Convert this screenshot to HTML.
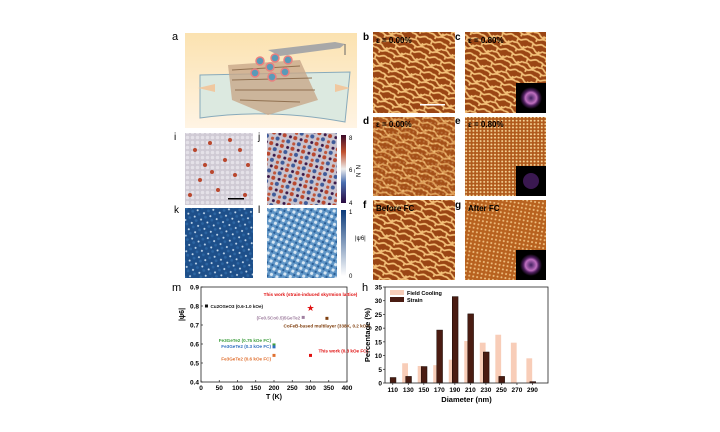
<!DOCTYPE html>
<html><head><meta charset="utf-8"><style>
body{margin:0;background:#fff;width:720px;height:432px;overflow:hidden;font-family:"Liberation Sans",sans-serif}
svg{position:absolute;left:0;top:0}
</style></head><body>
<svg width="720" height="432" font-family="Liberation Sans, sans-serif">
<defs>
<pattern id="maze" width="16" height="16" patternUnits="userSpaceOnUse" patternTransform="rotate(20)">
<rect width="16" height="16" fill="#9a4514"/>
<path d="M0 2 C3 0 5 5 8 3 S13 0 16 2 M0 7 C2 9 4 5 7 8 S12 11 16 7 M0 12 C4 10 6 15 9 13 S14 11 16 12 M4 3 V6 M12 8 V11 M6 13 V16" stroke="#f3c078" stroke-width="1.7" fill="none"/>
</pattern>
<pattern id="dots" width="3.6" height="3.4" patternUnits="userSpaceOnUse">
<rect width="3.6" height="3.4" fill="#b05a1c"/><circle cx="1.8" cy="1.7" r="1" fill="#f7d69a"/>
</pattern>
<pattern id="dotsg" width="4" height="4" patternUnits="userSpaceOnUse" patternTransform="rotate(10)">
<rect width="4" height="4" fill="#b8621f"/><circle cx="2" cy="2" r="1" fill="#f0c080"/>
</pattern>
<pattern id="ipat" width="5" height="5" patternUnits="userSpaceOnUse">
<rect width="5" height="5" fill="#cfcad4"/><circle cx="2.5" cy="2.5" r="1.8" fill="#e4e1e8"/>
</pattern>
<pattern id="jpat" width="11" height="11" patternUnits="userSpaceOnUse" patternTransform="rotate(15)">
<rect width="11" height="11" fill="#c9c4cf"/><circle cx="2" cy="2" r="2" fill="#b9472e"/><circle cx="7" cy="7" r="2" fill="#3e5b9a"/><circle cx="8" cy="2" r="1.5" fill="#3a1848"/><circle cx="2" cy="8" r="1.6" fill="#c0563a"/>
</pattern>
<pattern id="kpat" width="7" height="7" patternUnits="userSpaceOnUse" patternTransform="rotate(25)">
<rect width="7" height="7" fill="#1d4f8a"/><circle cx="2" cy="2" r="1" fill="#c8dcee"/><circle cx="5" cy="5" r="1.4" fill="#2c65a2"/>
</pattern>
<pattern id="lpat" width="6" height="6" patternUnits="userSpaceOnUse" patternTransform="rotate(25)">
<rect width="6" height="6" fill="#5f95c6"/><circle cx="2" cy="2" r="1.6" fill="#d6e6f3"/><circle cx="5" cy="5" r="1.2" fill="#2a5f98"/>
</pattern>
<radialGradient id="fft"><stop offset="0" stop-color="#402060"/><stop offset=".5" stop-color="#c070c0"/><stop offset=".7" stop-color="#502060"/><stop offset="1" stop-color="#000"/></radialGradient>
<linearGradient id="cbj" x1="0" y1="1" x2="0" y2="0"><stop offset="0" stop-color="#2a0a40"/><stop offset=".3" stop-color="#4a6fb0"/><stop offset=".5" stop-color="#eeeeee"/><stop offset=".75" stop-color="#c0502e"/><stop offset="1" stop-color="#3a0a2a"/></linearGradient>
<linearGradient id="cbk" x1="0" y1="1" x2="0" y2="0"><stop offset="0" stop-color="#ffffff"/><stop offset="1" stop-color="#0a3a7a"/></linearGradient>
<linearGradient id="abg" x1="0" y1="0" x2="0" y2="1"><stop offset="0" stop-color="#fbe2b0"/><stop offset="1" stop-color="#fff4e4"/></linearGradient>
</defs>

<g>
<text x="172" y="40" font-size="11">a</text>
<rect x="185" y="33" width="172" height="95" fill="url(#abg)"/>
<path d="M200 75 L350 72 L345 122 Q270 108 200 118 Z" fill="#dce9e0" stroke="#8ab" stroke-width="1"/>
<path d="M228 65 L300 60 L318 100 L268 115 L232 100 Z" fill="#c8a88a" opacity=".8"/>
<path d="M232 70 L300 66 M232 80 L312 78 M235 90 L315 90 M240 100 L300 102" stroke="#907050" stroke-width="1"/>
<path d="M268 50 L335 42 L345 44 L340 48 L280 56 Z" fill="#a8a8a8"/>
<path d="M345 44 V55" stroke="#666"/>
<g fill="#5a9ab8" stroke="#e88080" stroke-width="1.5"><circle cx="260" cy="61" r="4"/><circle cx="275" cy="58" r="4"/><circle cx="288" cy="60" r="4"/><circle cx="270" cy="67" r="4"/><circle cx="255" cy="73" r="4"/><circle cx="285" cy="72" r="4"/><circle cx="272" cy="77" r="4"/></g>
<path d="M198 88 L215 84 L215 92 Z" fill="#f0c8a0"/><path d="M350 88 L335 84 L335 92 Z" fill="#f0c8a0"/>
</g>

<g font-size="10" font-weight="bold">
<text x="363" y="40">b</text><rect x="373" y="32" width="82" height="81" fill="url(#maze)"/><text x="376" y="43" font-size="8">ε = 0.00%</text><rect x="420" y="104" width="25" height="1.5" fill="#fff"/>
<text x="455" y="40">c</text><rect x="465" y="32" width="81" height="81" fill="url(#maze)"/><text x="468" y="43" font-size="8">ε = 0.80%</text><rect x="516" y="83" width="30" height="30" fill="#000"/><circle cx="531" cy="98" r="11" fill="url(#fft)"/>
<text x="363" y="124">d</text><rect x="373" y="117" width="82" height="79" fill="url(#maze)"/><rect x="373" y="117" width="82" height="79" fill="url(#dotsg)" opacity=".35"/><text x="376" y="127" font-size="8">ε = 0.00%</text>
<text x="455" y="124">e</text><rect x="465" y="117" width="81" height="79" fill="url(#dots)"/><text x="468" y="127" font-size="8">ε = 0.80%</text><rect x="516" y="166" width="30" height="30" fill="#000"/><circle cx="531" cy="181" r="8" fill="#3a1850"/>
<text x="363" y="208">f</text><rect x="373" y="200" width="82" height="80" fill="url(#maze)"/><text x="376" y="211" font-size="8">Before FC</text>
<text x="455" y="208">g</text><rect x="465" y="200" width="81" height="80" fill="url(#dotsg)"/><text x="468" y="211" font-size="8">After FC</text><rect x="516" y="250" width="30" height="30" fill="#000"/><circle cx="531" cy="265" r="11" fill="url(#fft)"/>
</g>

<g font-size="10">
<text x="174" y="140">i</text><rect x="185" y="133" width="68" height="72" fill="url(#ipat)"/>
<g fill="#b9472e"><circle cx="195" cy="150" r="2"/><circle cx="210" cy="143" r="2"/><circle cx="225" cy="160" r="2"/><circle cx="240" cy="150" r="2"/><circle cx="200" cy="180" r="2"/><circle cx="218" cy="190" r="2"/><circle cx="235" cy="175" r="2"/><circle cx="245" cy="195" r="2"/><circle cx="205" cy="165" r="2"/><circle cx="230" cy="140" r="2"/><circle cx="190" cy="195" r="2"/><circle cx="212" cy="172" r="2"/><circle cx="248" cy="165" r="2"/></g>
<rect x="228" y="198" width="16" height="1.5" fill="#000"/>
<text x="258" y="140">j</text><rect x="267" y="133" width="70" height="72" fill="url(#jpat)"/>
<rect x="341" y="135" width="5" height="68" fill="url(#cbj)"/><text x="349" y="140" font-size="6">8</text><text x="349" y="172" font-size="6">6</text><text x="349" y="205" font-size="6">4</text><text x="356" y="165" font-size="6" transform="rotate(90 356 165)">N_N</text>
<text x="174" y="213">k</text><rect x="185" y="208" width="68" height="70" fill="url(#kpat)"/>
<text x="258" y="213">l</text><rect x="267" y="208" width="70" height="70" fill="url(#lpat)"/>
<rect x="341" y="210" width="5" height="66" fill="url(#cbk)"/><text x="349" y="214" font-size="6">1</text><text x="349" y="278" font-size="6">0</text><text x="355" y="240" font-size="6">|ψ6|</text>
</g>

<g id="chartm"></g>
<g id="charth"></g>
</svg>
<script>
const NS='http://www.w3.org/2000/svg';
function mk(p,t,a,txt){const e=document.createElementNS(NS,t);for(const k in a)e.setAttribute(k,a[k]);if(txt!==undefined)e.textContent=txt;p.appendChild(e);return e;}
const mTemps=[15,300,280,345,200,200,200,300];
const mPsi=[0.80,0.79,0.74,0.735,0.595,0.585,0.54,0.54];
const mLabels=['Cu2OSeO3 (0.6-1.0 kOe)','This work (strain-induced skyrmion lattice)','(Fe0.5Co0.5)5GeTe2','CoFeB-based multilayer (338K, 0.2 kOe)','Fe3GeTe2 (0.75 kOe FC)','Fe3GeTe2 (0.3 kOe FC)','Fe3GeTe2 (0.6 kOe FC)','This work (0.3 kOe FC)'];
const mColors=['#111','#e01010','#a080a0','#804010','#40a040','#3070c0','#e07030','#e01010'];
const mXTicks=[0,50,100,150,200,250,300,350,400];
const mYTicks=[0.4,0.5,0.6,0.7,0.8,0.9];
const hCats=[110,130,150,170,190,210,230,250,270,290];
const hField=[0,7.2,6.2,6.5,8.5,15.3,14.7,17.6,14.7,9];
const hStrain=[2,2.4,6,19.3,31.5,25.2,11.3,2.4,0,0.5];
const hYTicks=[0,5,10,15,20,25,30,35];

(function(){
const g=document.getElementById('chartm');
const X0=201,X1=347,Y0=382,Y1=287;
const sx=v=>X0+(v-0)/400*(X1-X0), sy=v=>Y0-(v-0.4)/0.5*(Y0-Y1);
const t=mk(g,'text',{x:172,y:291,'font-size':11},'m');
const ax=mk(g,'rect',{x:X0,y:Y1,width:X1-X0,height:Y0-Y1,fill:'none',stroke:'#222','stroke-width':0.8});

mXTicks.forEach(v=>{mk(g,'line',{x1:sx(v),x2:sx(v),y1:Y0,y2:Y0-2,stroke:'#222','stroke-width':.7});const l=mk(g,'text',{x:sx(v),y:Y0+8,'font-size':6.5,'text-anchor':'middle','font-weight':'bold'},v);});
mYTicks.forEach(v=>{mk(g,'line',{x1:X0,x2:X0+2,y1:sy(v),y2:sy(v),stroke:'#222','stroke-width':.7});const l=mk(g,'text',{x:X0-2,y:sy(v)+2.5,'font-size':6.5,'text-anchor':'end','font-weight':'bold'},v.toFixed(1));});
const xt=mk(g,'text',{x:(X0+X1)/2,y:Y0+17,'font-size':7,'text-anchor':'middle','font-weight':'bold'},'T (K)');
const yt=mk(g,'text',{x:0,y:0,'font-size':7,'font-weight':'bold','text-anchor':'middle',transform:`translate(${X0-17},${(Y0+Y1)/2-20}) rotate(-90)`},'|ψ6|');
const lpos=[[4,2,'start'],[0,-12,'middle'],[-3,2,'end'],[0,9,'middle'],[-3,-3,'end'],[-3,1,'end'],[-3,5,'end'],[8,-3,'start']];
mTemps.forEach((T,i)=>{
 const x=sx(T),y=sy(mPsi[i]);
 const p=i===1?mk(g,'text',{x:x,y:y+3,'font-size':9,'text-anchor':'middle',fill:mColors[i]},'★'):mk(g,'rect',{x:x-1.5,y:y-1.5,width:3,height:3,fill:mColors[i]});
 
 const [dx,dy,an]=lpos[i];
 const l=mk(g,'text',{x:x+dx,y:y+dy,'font-size':4.6,'font-weight':'bold','text-anchor':an,fill:mColors[i]},mLabels[i]);
 
});
})();

(function(){
const g=document.getElementById('charth');
const X0=385,X1=548,Y0=383,Y1=287;
const sx=v=>X0+(v-100)/210*(X1-X0), sy=v=>Y0-v/35*(Y0-Y1);
const t=mk(g,'text',{x:362,y:291,'font-size':11},'h');
const bw=5.8;
hCats.forEach((c,i)=>{
 const x=sx(c);
 const a=mk(g,'rect',{x:x-bw-0.3,y:sy(hField[i]),width:bw,height:Y0-sy(hField[i]),fill:'#f8cdb8'});
 
 const b=mk(g,'rect',{x:x+0.3-bw/2,y:sy(hStrain[i]),width:bw,height:Y0-sy(hStrain[i]),fill:'#4a1c12',stroke:'#1a0a05','stroke-width':.5});
 
 mk(g,'line',{x1:x,x2:x,y1:Y0,y2:Y0+2,stroke:'#222','stroke-width':.7});
 const l=mk(g,'text',{x:x,y:Y0+9,'font-size':6.5,'text-anchor':'middle','font-weight':'bold'},c);
});
const ax=mk(g,'rect',{x:X0,y:Y1,width:X1-X0,height:Y0-Y1,fill:'none',stroke:'#222','stroke-width':0.8});

hYTicks.forEach(v=>{mk(g,'line',{x1:X0,x2:X0-2,y1:sy(v),y2:sy(v),stroke:'#222','stroke-width':.7});const l=mk(g,'text',{x:X0-3,y:sy(v)+2.5,'font-size':6.5,'text-anchor':'end','font-weight':'bold'},v);});
const xt=mk(g,'text',{x:(X0+X1)/2,y:Y0+19,'font-size':7.5,'text-anchor':'middle','font-weight':'bold'},'Diameter (nm)');
const yt=mk(g,'text',{x:0,y:0,'font-size':7.5,'font-weight':'bold','text-anchor':'middle',transform:`translate(${X0-15},${(Y0+Y1)/2}) rotate(-90)`},'Percentage (%)');
const l1=mk(g,'rect',{x:390,y:290,width:14,height:5,fill:'#f8cdb8'});
const t1=mk(g,'text',{x:407,y:295,'font-size':5.5,'font-weight':'bold'},'Field Cooling');
const l2=mk(g,'rect',{x:390,y:297,width:14,height:5,fill:'#4a1c12'});
const t2=mk(g,'text',{x:407,y:302,'font-size':5.5,'font-weight':'bold'},'Strain');
})();
</script>
</body></html>
